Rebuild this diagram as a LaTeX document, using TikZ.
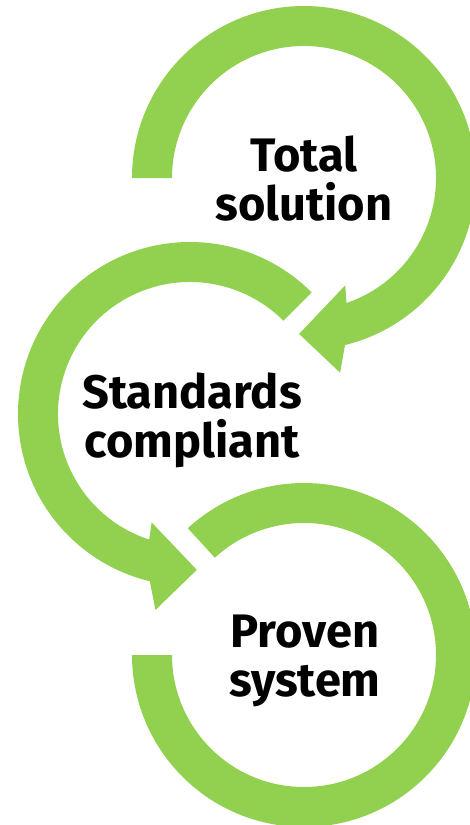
\documentclass[tikz,border=0pt]{standalone}
\usepackage{fontspec}
\setmainfont{Fira Sans}
\usetikzlibrary{calc}
\definecolor{leaf}{HTML}{92D050}
\begin{document}
\begin{tikzpicture}[x=1pt,y=1pt,
  ring/.style={fill=leaf,draw=none},
  label/.style={align=center,inner sep=0pt,text=black,
    font=\fontsize{47}{49}\selectfont\bfseries}]
\useasboundingbox (0,0) rectangle (470,-825);
\clip (0,0) rectangle (470,-825);
% ring centres
\coordinate (c1) at (304,-178);
\coordinate (c2) at (190,-414);
\coordinate (c3) at (304,-655);
% upper ring: clockwise from the flat left end to its arrowhead
\fill[ring] ($(c1)+(180:172)$) arc[start angle=180,end angle=-76.2,radius=172]
  -- ($(c1)+(-79.5:198)$) -- ($(c1)+(-91.8:156)$) -- ($(c1)+(-69:115)$)
  -- ($(c1)+(-71.2:132)$) arc[start angle=-71.2,end angle=180,radius=132] -- cycle;
% middle ring: counter-clockwise from the upper right to its arrowhead
\fill[ring] ($(c2)+(45:172)$) arc[start angle=45,end angle=256.5,radius=172]
  -- ($(c2)+(260:199)$) -- ($(c2)+(272.5:156)$) -- ($(c2)+(250.5:115)$)
  -- ($(c2)+(252:132)$) arc[start angle=252,end angle=45,radius=132] -- cycle;
% lower ring: clockwise from the upper left round to the flat left end
\fill[ring] ($(c3)+(132.5:172)$) arc[start angle=132.5,end angle=-180,radius=172]
  -- ($(c3)+(-180:132)$) arc[start angle=-180,end angle=132.5,radius=132] -- cycle;
% labels
\node[label] (t1) at ($(c1)+(0,-1)$) {Total\\solution};
\node[label] (t2) at ($(c2)+(2,-6)$) {Standards\\compliant};
\node[label] (t3) at ($(c3)+(1,-6)$) {Proven\\system};
\end{tikzpicture}
\end{document}
